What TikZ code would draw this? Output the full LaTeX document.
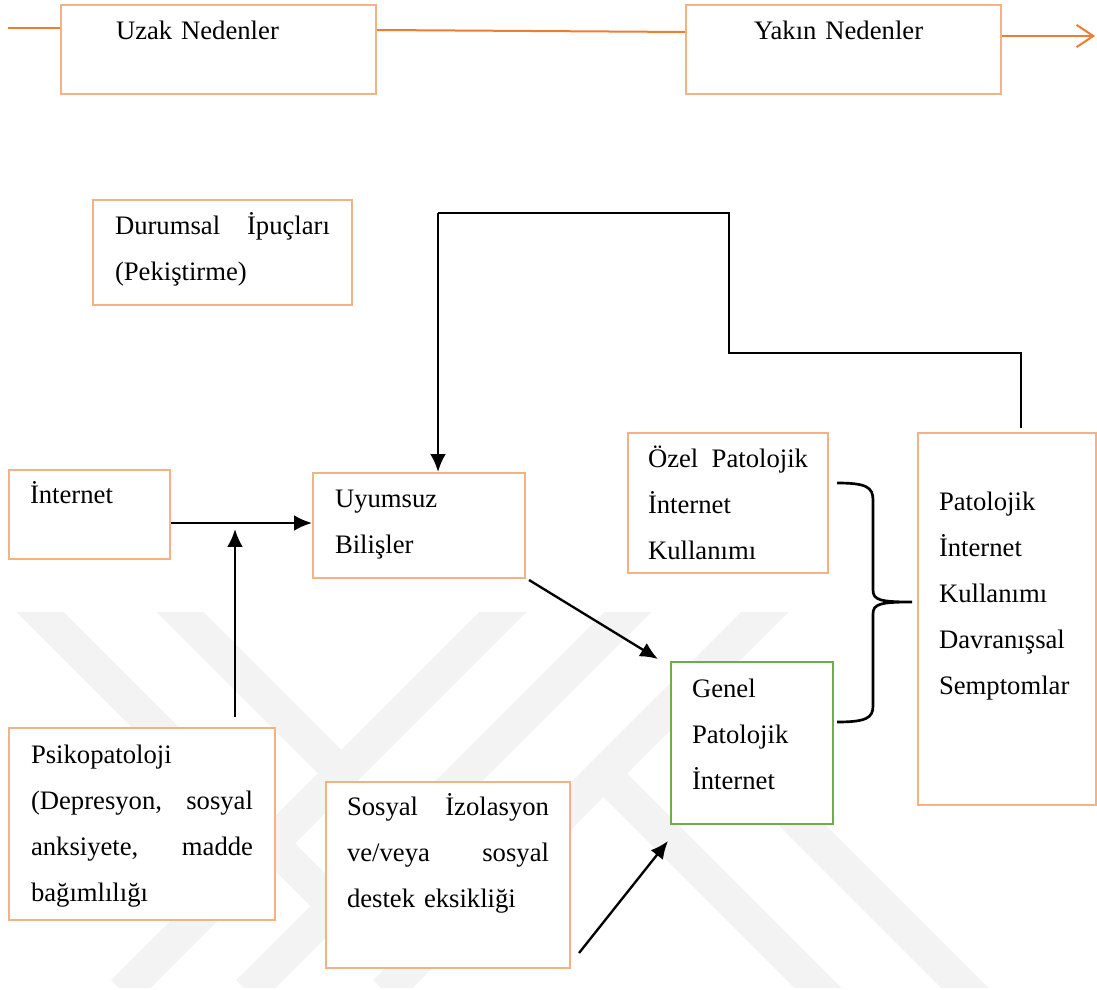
\documentclass[tikz,border=0pt]{standalone}
\usepackage{fontspec}
\setmainfont{Liberation Serif}
\usetikzlibrary{arrows.meta,positioning,calc}
\definecolor{boxorange}{HTML}{F4B183}
\definecolor{lineorange}{HTML}{ED7D31}
\definecolor{boxgreen}{HTML}{70AD47}
\definecolor{wmgray}{HTML}{F3F3F3}

\begin{document}
\begin{tikzpicture}
[x=0.45pt, y=-0.45pt,
    box/.style={draw=boxorange, line width=0.9pt, fill=white, inner ysep=0pt,
        align=left, anchor=base west, font=\fontsize{12}{20.7}\selectfont},
    gbox/.style={box, draw=boxgreen},
    oline/.style={draw=lineorange, line width=0.9pt},
    arr/.style={-{Latex[length=8pt,width=7pt]}, line width=1.05pt},
    band/.style={draw=wmgray, line width=15pt}]
\useasboundingbox (0,0) rectangle (1097,990);
%%%%%%%%%%
%%%%% watermark behind the lower part
\begin{scope}
\clip (0,612) rectangle (1097,987);
\draw[band] (523,592) -- (123,992);
\draw[band] (648,592) -- (248,992);
\draw[band] (785,592) -- (385,992);
\draw[band] (20,592) -- (334,906);
\draw[band] (160,592) -- (341.5,773.5);
\draw[band] (603.5,773.5) -- (1000,1170);
\draw[band] (677,700) -- (1000,1023);
\end{scope}
%%
%% time line
\node (uzak) [box, inner xsep=24.75pt, text width=92.25pt, text height=15.75pt, text depth=24.3pt] at (60,40) {Uzak Nedenler};
\node (yakin) [box, inner xsep=30.6pt, text width=80.55pt, text height=15.75pt, text depth=24.3pt] at (685,40) {Yakın Nedenler};
%% nodes
\node (durumsal) [box, inner xsep=9.9pt, text width=96.75pt, text height=15.75pt, text depth=31.5pt] at (92,235) {Durumsal \hfill İpuçları\\(Pekiştirme)};
\node (internet) [box, inner xsep=9.45pt, text width=53.55pt, text height=14.85pt, text depth=25.2pt] at (8,503) {İnternet};
\node (uyumsuz) [box, inner xsep=9.9pt, text width=75.6pt, text height=15.3pt, text depth=31.95pt] at (312,507) {Uyumsuz\\Bilişler};
\node (ozel) [box, inner xsep=9pt, text width=72pt, text height=15.3pt, text depth=47.7pt] at (627,467) {Özel \hfill Patolojik\\İnternet\\Kullanımı};
\node (patolojik) [box, inner xsep=9.45pt, text width=61.2pt, text height=34.65pt, text depth=132.75pt] at (917,510) {Patolojik\\İnternet\\Kullanımı\\Davranışsal\\Semptomlar};
\node (genel) [gbox, inner xsep=9.45pt, text width=54pt, text height=15.75pt, text depth=57.15pt] at (670,697) {Genel\\Patolojik\\İnternet};
\node (psiko) [box, inner xsep=9.9pt, text width=99.9pt, text height=15.75pt, text depth=70.65pt] at (8,763) {Psikopatoloji\\(Depresyon, \hfill sosyal\\anksiyete, \hfill madde\\bağımlılığı};
\node (sosyal) [box, inner xsep=9.45pt, text width=90.9pt, text height=14.85pt, text depth=68.85pt] at (325,815) {Sosyal \hfill İzolasyon\\ve/veya \hfill sosyal\\destek eksikliği};
%% orange time arrow
\coordinate (tstart) at (8,28);
\coordinate (tend) at (1095,36);
\draw[oline] (tstart) -- (tstart -| uzak.west);
\draw[oline] ([yshift=-11.7pt]uzak.north east) -- ([yshift=-12.6pt]yakin.north west);
\draw[oline, -{Straight Barb[length=7.5pt,width=10pt]}] (tend -| yakin.east) -- (tend);
%% edges
\coordinate (jn) at (235,523);
\draw[arr] (internet.east |- jn) -- (uyumsuz.west |- jn);
\draw[arr] ($(psiko.north -| jn)+(0,-10)$) -- ($(jn)+(0,6)$);
\draw[arr] ($(uyumsuz.south east)+(3,1)$) -- ($(genel.north west)+(-12,-2)$);
\draw[arr] ($(sosyal.south east)+(8,-16)$) -- ($(genel.south west)+(-2,16)$);
%% feedback from the symptoms
\coordinate (fb1) at (1021,428);
\coordinate (fb2) at (729,353);
\coordinate (fb3) at (438,213);
\draw[line width=0.6pt] (fb1) |- (fb2) |- (fb3);
\draw[arr] (fb3) -- (fb3 |- uyumsuz.north);
%% brace
\coordinate (br1) at (837,483);
\coordinate (br2) at (912,602);
\coordinate (br3) at (837,722);
\draw[line width=1.2pt] (br1) .. controls (866,483) and (873,487) .. (873,500) -- (873,590)
    .. controls (873,600) and (880,602) .. (br2)
    .. controls (880,602) and (873,604) .. (873,614) -- (873,706)
    .. controls (873,718) and (866,722) .. (br3);
\end{tikzpicture}
\end{document}
